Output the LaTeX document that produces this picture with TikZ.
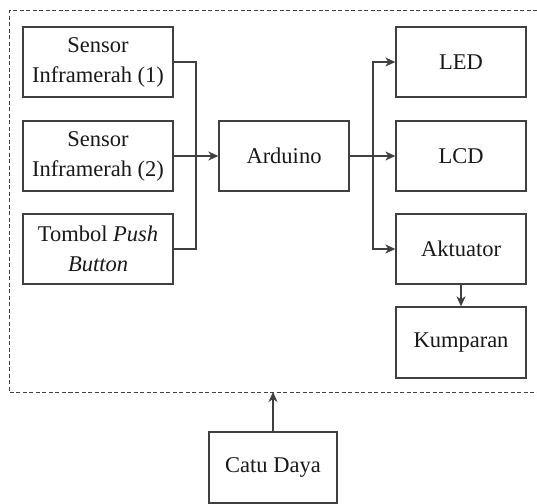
\documentclass[tikz,border=0pt]{standalone}
\usepackage{fontspec}
\setmainfont{Liberation Serif}
\usetikzlibrary{arrows.meta}
\begin{document}
\begin{tikzpicture}[x=1pt,y=-1pt,
  box/.style={draw=black!75, line width=1.3pt, rectangle, inner sep=0pt, align=center,
    text=black!90, font=\fontsize{22.5}{30}\selectfont},
  lbox/.style={box, minimum width=150pt, minimum height=70pt},
  rbox/.style={box, minimum width=130pt, minimum height=70pt},
  conn/.style={draw=black!75, line width=1.3pt},
  arr/.style={conn, -{Stealth[length=10pt,width=9pt,inset=3pt]}},
  frame/.style={draw=black!75, line width=1pt, dash pattern=on 4pt off 2.5pt}]
\useasboundingbox (0,0) rectangle (537,503);
\fill[white] (0,0) rectangle (537,503);
\draw[frame] (537,11) -- (9,11) -- (9,392) -- (537,392);
\node[lbox] (s1) at (98,62) {Sensor\\Inframerah (1)};
\node[lbox] (s2) at (98,156) {Sensor\\Inframerah (2)};
\node[lbox] (tb) at (98,249) {Tombol \textit{Push}\\\textit{Button}};
\node[rbox] (ard) at (284,156) {Arduino};
\node[rbox] (led) at (461,62) {LED};
\node[rbox] (lcd) at (461,156) {LCD};
\node[rbox] (akt) at (461,249) {Aktuator};
\node[rbox, minimum height=71pt] (kum) at (461,342.5) {Kumparan};
\node[box, minimum width=128pt, minimum height=71pt] (cd) at (273,467.5) {Catu Daya};
\coordinate (ib) at (196,62);
\coordinate (ob) at (373,156);
\coordinate (pw) at (273,392);
\draw[conn] (s1.east) -- (ib) |- (tb.east);
\draw[arr] (s2.east) -- (ard.west);
\draw[conn] (ard.east) -- (ob);
\draw[arr] (ob) |- (led.west);
\draw[arr] (ob) -- (lcd.west);
\draw[arr] (ob) |- (akt.west);
\draw[arr] (akt.south) -- (kum.north);
\draw[arr] (cd.north) -- (pw);
\end{tikzpicture}
\end{document}
